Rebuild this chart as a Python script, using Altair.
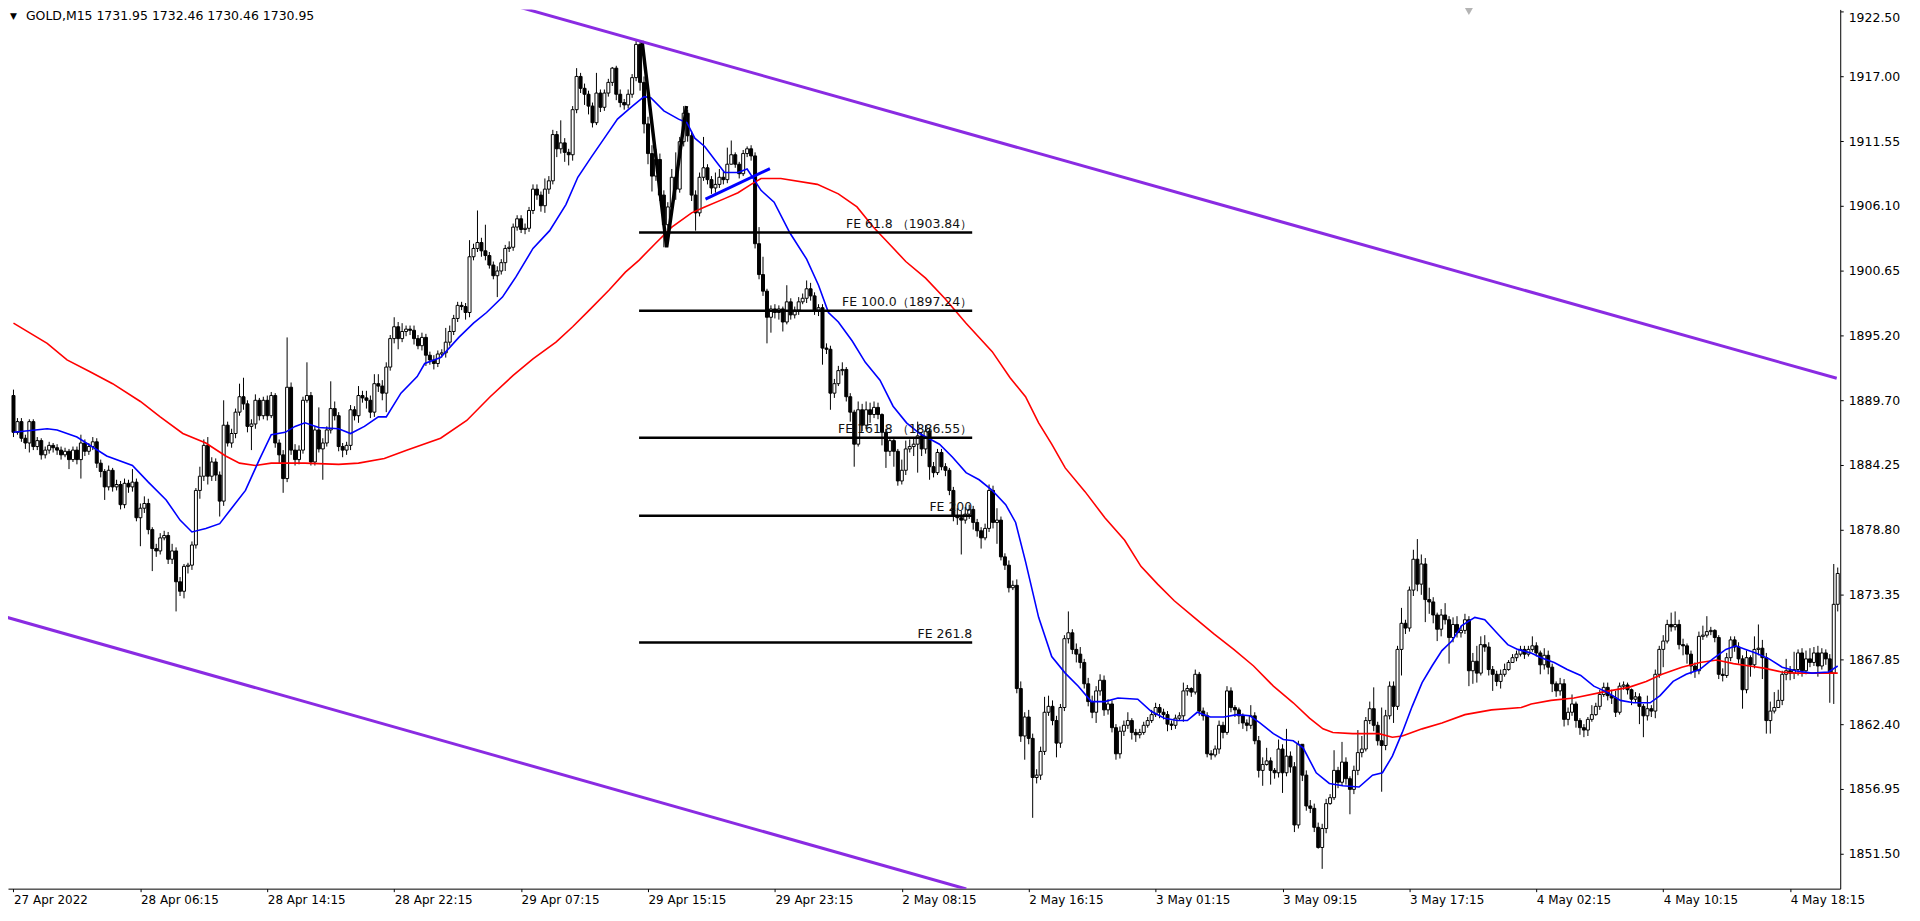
import altair as alt
import pandas as pd

# ---------------- candle data (GOLD M15) ----------------
first_open = 1890.1
closes = [
    1887.0, 1887.9, 1886.5, 1886.1, 1887.9, 1885.8, 1886.3, 1885.1, 1885.5, 1885.9,
    1885.7, 1885.5, 1885.1, 1885.4, 1884.7, 1885.5, 1884.7, 1886.1, 1885.4, 1885.8,
    1886.2, 1884.4, 1883.7, 1882.4, 1883.8, 1882.4, 1882.6, 1880.9, 1882.7, 1882.4,
    1882.8, 1879.8, 1880.6, 1881.0, 1878.8, 1877.2, 1877.0, 1878.1, 1878.3, 1876.3,
    1877.0, 1874.4, 1873.6, 1875.7, 1875.8, 1877.5, 1882.1, 1883.3, 1885.9, 1883.3,
    1884.5, 1883.4, 1881.2, 1887.6, 1886.1, 1886.9, 1888.7, 1890.0, 1889.4, 1887.5,
    1887.7, 1889.7, 1888.4, 1889.7, 1888.4, 1890.1, 1886.1, 1885.1, 1883.1, 1890.8,
    1885.5, 1884.7, 1885.5, 1889.7, 1890.1, 1884.5, 1887.2, 1885.6, 1886.1, 1887.2,
    1889.0, 1888.4, 1885.8, 1885.5, 1885.9, 1888.9, 1888.4, 1890.1, 1889.9, 1889.7,
    1888.7, 1891.1, 1890.9, 1890.3, 1892.5, 1894.9, 1895.9, 1894.9, 1895.5, 1895.7,
    1895.6, 1894.9, 1894.3, 1895.0, 1893.5, 1893.1, 1892.8, 1893.6, 1893.7, 1894.6,
    1895.5, 1896.6, 1897.7, 1897.6, 1897.1, 1901.8, 1902.5, 1903.0, 1902.3, 1901.9,
    1901.1, 1900.2, 1900.6, 1901.3, 1902.5, 1902.6, 1904.3, 1905.0, 1904.1, 1904.2,
    1905.7, 1907.5, 1907.0, 1906.1, 1907.5, 1908.2, 1912.1, 1910.9, 1911.4, 1910.6,
    1910.4, 1914.2, 1917.0, 1916.0, 1915.5, 1914.5, 1913.1, 1915.6, 1914.4, 1915.6,
    1916.5, 1917.7, 1915.5, 1914.8, 1914.6, 1915.5, 1916.9, 1919.7, 1916.5, 1913.0,
    1910.5, 1908.6, 1910.0, 1907.0, 1904.5, 1906.0, 1908.5, 1907.5, 1911.5, 1913.9,
    1912.0, 1907.0, 1905.5, 1908.5, 1909.3, 1908.3, 1907.6, 1907.9, 1908.5, 1908.3,
    1909.6, 1910.4, 1909.6, 1908.8, 1910.5, 1910.9, 1910.3, 1902.9, 1900.3, 1898.9,
    1896.7, 1897.4, 1897.1, 1897.4, 1896.3, 1898.0, 1896.9, 1897.3, 1898.0, 1898.3,
    1899.1, 1898.5, 1897.3, 1897.5, 1894.1, 1894.0, 1890.3, 1891.1, 1892.2, 1892.3,
    1890.0, 1888.7, 1886.0, 1888.9, 1887.6, 1888.9, 1888.5, 1889.1, 1888.5, 1887.0,
    1885.4, 1886.3, 1885.4, 1882.9, 1883.8, 1885.6, 1885.8, 1886.0, 1886.7, 1885.6,
    1887.1, 1884.1, 1883.6, 1885.3, 1884.1, 1883.8, 1882.1, 1879.9, 1879.8, 1879.6,
    1880.1, 1880.5, 1879.4, 1878.7, 1878.1, 1878.9, 1882.1, 1879.4, 1879.6, 1876.5,
    1875.8, 1873.9, 1874.1, 1865.4, 1861.4, 1863.0, 1861.2, 1857.9, 1858.1, 1860.1,
    1863.4, 1863.9, 1862.7, 1860.8, 1863.8, 1869.6, 1870.1, 1868.7, 1868.3, 1867.6,
    1865.8, 1864.3, 1863.4, 1865.2, 1866.1, 1863.6, 1864.1, 1862.1, 1859.9, 1861.8,
    1862.3, 1862.7, 1861.7, 1861.5, 1861.7, 1862.3, 1862.7, 1863.2, 1863.8, 1863.4,
    1863.2, 1862.4, 1862.3, 1862.9, 1863.1, 1865.2, 1865.4, 1865.1, 1866.6, 1863.5,
    1863.1, 1859.9, 1859.8, 1860.3, 1862.3, 1861.7, 1865.2, 1863.8, 1863.6, 1863.1,
    1862.5, 1862.3, 1863.1, 1861.0, 1858.5, 1859.0, 1859.3, 1858.5, 1858.3, 1860.3,
    1858.3, 1859.7, 1858.8, 1853.9, 1860.7, 1858.1, 1855.5, 1855.3, 1853.7, 1852.0,
    1853.6, 1855.7, 1856.2, 1858.5, 1857.5, 1859.2, 1857.8, 1856.9, 1858.5, 1860.0,
    1860.3, 1862.7, 1863.7, 1862.3, 1861.0, 1860.6, 1863.1, 1865.6, 1863.9, 1868.7,
    1870.9, 1870.5, 1873.7, 1876.3, 1874.2, 1875.9, 1872.9, 1872.7, 1871.6, 1870.4,
    1871.6, 1871.2, 1869.7, 1870.8, 1870.1, 1870.3, 1871.2, 1866.9, 1867.7, 1866.7,
    1869.1, 1868.9, 1867.0, 1866.6, 1866.0, 1866.6, 1867.0, 1867.6, 1868.0, 1868.3,
    1868.7, 1868.3, 1868.7, 1869.0, 1868.4, 1867.4, 1868.2, 1867.2, 1865.8, 1865.2,
    1865.8, 1862.8, 1863.4, 1864.1, 1862.7, 1862.1, 1861.9, 1862.8, 1863.2, 1863.9,
    1864.9, 1865.5, 1864.8, 1864.6, 1863.4, 1865.6, 1865.7, 1865.3, 1864.5, 1864.7,
    1863.9, 1863.1, 1863.7, 1863.5, 1866.6, 1868.7, 1869.4, 1870.8, 1870.6, 1870.8,
    1869.1, 1869.0, 1868.3, 1867.3, 1866.9, 1869.8, 1869.9, 1870.2, 1870.3, 1869.7,
    1866.6, 1866.5, 1868.0, 1869.5, 1868.9, 1867.9, 1865.3, 1868.0, 1867.4, 1868.7,
    1868.8, 1868.0, 1862.7, 1863.5, 1863.8, 1864.4, 1866.6, 1866.9, 1866.7, 1867.0,
    1868.4, 1866.9, 1867.9, 1867.6, 1868.4, 1867.3, 1868.4, 1867.9, 1866.7, 1872.5, 1875.1,
]
highs = [
    1890.6, 1888.2, 1888.2, 1886.8, 1888.1, 1888.1, 1886.6, 1886.5, 1885.8, 1886.2,
    1886.1, 1886.0, 1885.8, 1885.7, 1885.6, 1885.8, 1885.8, 1886.8, 1886.4, 1886.1,
    1886.6, 1886.5, 1884.7, 1883.9, 1884.2, 1884.0, 1883.0, 1882.9, 1883.1, 1883.0,
    1883.9, 1883.1, 1881.0, 1881.6, 1881.4, 1879.0, 1877.6, 1878.5, 1878.7, 1878.6,
    1877.6, 1877.3, 1874.8, 1875.9, 1876.0, 1877.8, 1882.3, 1884.1, 1886.4, 1886.6,
    1884.9, 1884.8, 1883.7, 1889.7, 1887.9, 1887.3, 1889.0, 1891.1, 1891.6, 1889.7,
    1888.1, 1890.2, 1889.9, 1890.0, 1890.1, 1890.4, 1890.3, 1886.4, 1885.5, 1895.0,
    1891.2, 1886.0, 1885.9, 1890.0, 1892.9, 1890.4, 1887.5, 1889.1, 1886.5, 1887.5,
    1891.3, 1889.6, 1888.7, 1886.1, 1886.2, 1889.3, 1889.2, 1890.9, 1890.5, 1890.5,
    1890.1, 1891.9, 1891.9, 1891.4, 1892.9, 1895.2, 1896.7, 1896.3, 1896.2, 1896.0,
    1896.0, 1896.0, 1895.2, 1895.4, 1895.3, 1893.8, 1893.5, 1893.9, 1894.0, 1895.8,
    1896.0, 1896.9, 1898.0, 1898.0, 1897.9, 1903.2, 1902.9, 1905.7, 1903.4, 1904.5,
    1902.2, 1901.4, 1901.0, 1901.6, 1902.8, 1903.1, 1904.6, 1905.3, 1905.3, 1904.6,
    1906.0, 1907.9, 1907.9, 1907.3, 1908.4, 1908.6, 1912.5, 1912.4, 1913.3, 1911.8,
    1910.9, 1914.5, 1917.7, 1917.3, 1916.4, 1915.8, 1914.8, 1917.3, 1915.9, 1915.9,
    1916.8, 1917.8, 1917.9, 1915.9, 1915.1, 1915.9, 1917.2, 1920.0, 1920.0, 1917.0,
    1913.6, 1911.2, 1910.9, 1910.5, 1907.4, 1906.4, 1909.2, 1910.6, 1911.9, 1914.5,
    1914.2, 1912.4, 1907.4, 1908.9, 1911.9, 1909.6, 1908.6, 1908.9, 1909.2, 1909.0,
    1911.0, 1911.6, 1910.6, 1909.8, 1910.8, 1911.1, 1911.2, 1910.6, 1904.3, 1901.8,
    1899.1, 1897.7, 1897.8, 1897.7, 1897.6, 1899.4, 1898.3, 1897.6, 1898.4, 1898.7,
    1899.8, 1899.6, 1898.8, 1897.8, 1897.8, 1894.5, 1894.3, 1891.5, 1892.6, 1892.9,
    1892.5, 1890.3, 1888.9, 1889.6, 1889.4, 1889.6, 1889.5, 1889.6, 1889.5, 1888.6,
    1887.3, 1886.6, 1886.5, 1885.6, 1884.7, 1886.3, 1886.4, 1886.5, 1887.9, 1887.0,
    1887.6, 1887.4, 1884.5, 1885.6, 1885.6, 1884.4, 1884.0, 1882.4, 1880.6, 1880.4,
    1880.7, 1880.9, 1880.8, 1879.7, 1879.0, 1879.3, 1882.6, 1882.5, 1880.6, 1879.9,
    1876.8, 1876.2, 1874.5, 1874.6, 1866.0, 1863.4, 1863.6, 1861.6, 1858.6, 1860.5,
    1864.7, 1864.8, 1864.4, 1863.1, 1864.1, 1869.9, 1871.9, 1870.4, 1869.2, 1868.9,
    1867.9, 1866.3, 1864.8, 1865.6, 1866.6, 1866.5, 1864.5, 1864.4, 1862.4, 1862.2,
    1862.7, 1863.4, 1862.9, 1862.0, 1862.0, 1862.6, 1863.0, 1863.6, 1864.2, 1864.1,
    1863.7, 1863.5, 1862.7, 1863.2, 1863.4, 1865.9, 1865.7, 1865.5, 1867.0, 1866.8,
    1863.8, 1863.4, 1860.2, 1860.6, 1862.7, 1862.6, 1865.6, 1865.5, 1864.0, 1863.8,
    1863.3, 1862.8, 1864.0, 1863.4, 1861.4, 1859.6, 1860.4, 1859.6, 1858.7, 1861.1,
    1860.7, 1862.0, 1860.1, 1859.2, 1861.0, 1860.7, 1858.5, 1856.0, 1855.7, 1854.1,
    1854.0, 1856.1, 1856.5, 1860.2, 1858.8, 1860.9, 1859.6, 1858.0, 1858.9, 1861.9,
    1861.4, 1863.0, 1864.3, 1865.5, 1862.6, 1863.8, 1863.6, 1866.0, 1866.0, 1869.0,
    1872.2, 1871.2, 1874.0, 1877.1, 1878.0, 1876.7, 1876.4, 1873.9, 1873.1, 1871.8,
    1872.1, 1872.6, 1871.5, 1871.4, 1871.5, 1870.7, 1871.7, 1871.5, 1868.4, 1869.0,
    1869.8, 1869.9, 1869.3, 1867.3, 1866.9, 1867.0, 1867.5, 1867.8, 1868.3, 1868.6,
    1869.0, 1869.0, 1869.0, 1869.8, 1869.3, 1868.6, 1868.8, 1868.6, 1867.5, 1866.0,
    1866.3, 1866.2, 1863.8, 1864.9, 1864.3, 1862.9, 1862.4, 1863.0, 1864.0, 1864.2,
    1865.3, 1865.9, 1865.9, 1865.3, 1865.2, 1865.9, 1866.0, 1865.9, 1865.4, 1865.1,
    1865.0, 1864.1, 1864.8, 1864.0, 1867.0, 1869.0, 1869.9, 1871.2, 1871.8, 1871.9,
    1871.2, 1869.6, 1869.2, 1868.6, 1867.6, 1870.2, 1870.7, 1871.5, 1870.6, 1870.4,
    1869.9, 1867.1, 1868.4, 1869.8, 1869.8, 1869.3, 1868.2, 1868.6, 1868.2, 1869.8,
    1870.8, 1869.5, 1868.4, 1864.3, 1865.1, 1865.3, 1866.9, 1867.9, 1867.3, 1868.5,
    1868.7, 1868.8, 1868.6, 1868.8, 1868.9, 1869.0, 1868.8, 1868.7, 1868.3, 1875.9, 1875.6,
]
lows = [
    1886.6, 1886.8, 1886.2, 1885.6, 1885.3, 1885.5, 1885.5, 1884.7, 1884.8, 1885.2,
    1885.3, 1885.1, 1884.7, 1884.9, 1883.9, 1884.5, 1884.3, 1883.1, 1885.0, 1885.1,
    1885.5, 1884.0, 1883.2, 1881.3, 1882.1, 1882.0, 1882.1, 1880.5, 1880.6, 1881.9,
    1882.0, 1879.5, 1877.4, 1880.2, 1878.4, 1875.3, 1876.5, 1876.7, 1877.9, 1875.9,
    1875.9, 1871.9, 1873.2, 1873.0, 1875.1, 1875.4, 1877.2, 1881.4, 1882.9, 1882.6,
    1882.9, 1882.9, 1879.9, 1880.8, 1885.8, 1885.7, 1886.5, 1888.4, 1888.9, 1887.0,
    1885.5, 1887.3, 1888.0, 1888.1, 1888.0, 1888.2, 1885.7, 1884.4, 1881.9, 1882.8,
    1885.1, 1884.2, 1884.3, 1885.2, 1889.5, 1884.2, 1884.2, 1885.3, 1883.0, 1885.8,
    1886.9, 1888.0, 1885.4, 1884.9, 1885.1, 1885.5, 1888.0, 1887.8, 1889.5, 1889.0,
    1888.2, 1888.3, 1890.4, 1889.7, 1888.7, 1892.2, 1894.5, 1894.0, 1894.6, 1895.1,
    1895.2, 1894.4, 1894.0, 1893.9, 1892.6, 1892.7, 1892.3, 1892.5, 1893.3, 1893.3,
    1894.3, 1895.2, 1896.3, 1897.3, 1896.5, 1896.7, 1901.5, 1902.2, 1901.8, 1901.5,
    1900.8, 1899.9, 1898.4, 1900.3, 1900.6, 1902.2, 1902.3, 1904.0, 1903.8, 1903.7,
    1903.9, 1905.4, 1906.6, 1905.6, 1905.5, 1907.1, 1907.9, 1910.2, 1910.5, 1909.8,
    1909.5, 1909.9, 1913.9, 1915.6, 1914.6, 1913.8, 1912.7, 1912.9, 1914.0, 1914.1,
    1915.3, 1916.2, 1915.0, 1914.4, 1914.2, 1914.3, 1915.2, 1916.6, 1915.8, 1912.2,
    1909.6, 1907.3, 1908.2, 1906.5, 1902.6, 1904.0, 1905.6, 1906.6, 1907.2, 1911.1,
    1911.5, 1906.5, 1904.0, 1905.2, 1908.2, 1907.9, 1907.1, 1907.2, 1907.6, 1907.9,
    1908.0, 1910.0, 1909.3, 1908.4, 1908.6, 1910.2, 1909.9, 1902.5, 1899.9, 1898.5,
    1894.5, 1895.4, 1896.6, 1896.5, 1895.5, 1896.1, 1896.5, 1896.6, 1896.9, 1897.8,
    1897.9, 1898.1, 1896.9, 1896.8, 1892.7, 1893.6, 1888.9, 1889.9, 1890.9, 1891.8,
    1889.6, 1887.9, 1884.1, 1885.8, 1887.1, 1887.3, 1887.8, 1888.2, 1888.1, 1885.9,
    1884.0, 1885.0, 1884.1, 1882.5, 1882.6, 1883.4, 1885.3, 1885.0, 1883.6, 1885.0,
    1885.2, 1883.0, 1883.2, 1883.4, 1883.8, 1883.3, 1881.7, 1879.5, 1879.2, 1876.7,
    1879.3, 1879.7, 1878.8, 1878.2, 1877.2, 1877.9, 1878.6, 1878.9, 1877.6, 1876.2,
    1875.4, 1873.5, 1873.7, 1865.0, 1860.9, 1859.4, 1860.7, 1854.5, 1857.4, 1857.7,
    1859.8, 1863.1, 1862.3, 1859.6, 1860.4, 1863.5, 1869.2, 1868.3, 1867.6, 1867.1,
    1865.4, 1863.9, 1862.9, 1862.5, 1864.8, 1863.1, 1863.2, 1861.7, 1859.4, 1859.5,
    1861.4, 1862.0, 1861.1, 1860.9, 1861.2, 1861.5, 1862.1, 1862.5, 1863.0, 1862.9,
    1862.8, 1861.8, 1861.9, 1862.0, 1862.7, 1862.6, 1864.8, 1864.7, 1864.9, 1863.1,
    1862.7, 1859.6, 1859.4, 1859.6, 1859.9, 1861.2, 1861.5, 1863.4, 1863.0, 1862.4,
    1862.0, 1861.8, 1862.0, 1860.7, 1857.9, 1857.2, 1858.9, 1857.3, 1857.8, 1857.9,
    1856.6, 1858.0, 1858.3, 1853.3, 1853.6, 1857.6, 1855.1, 1854.9, 1853.3, 1851.9,
    1850.2, 1853.2, 1855.6, 1856.0, 1857.0, 1857.2, 1857.3, 1854.8, 1856.5, 1858.1,
    1859.6, 1860.1, 1862.4, 1861.8, 1860.6, 1856.7, 1860.2, 1862.8, 1862.5, 1863.6,
    1866.5, 1870.0, 1870.2, 1873.2, 1873.6, 1873.3, 1871.0, 1871.7, 1870.9, 1869.4,
    1869.8, 1870.8, 1867.5, 1869.3, 1869.7, 1869.7, 1870.0, 1865.6, 1865.8, 1865.9,
    1866.5, 1868.5, 1866.5, 1865.2, 1865.6, 1865.4, 1866.4, 1866.9, 1867.6, 1867.7,
    1868.1, 1867.9, 1868.1, 1868.5, 1868.1, 1866.6, 1867.0, 1866.6, 1865.1, 1864.7,
    1864.8, 1862.2, 1862.3, 1863.1, 1862.1, 1861.5, 1861.3, 1861.4, 1862.6, 1863.1,
    1863.6, 1864.7, 1864.4, 1864.1, 1863.0, 1863.2, 1865.3, 1864.9, 1864.0, 1864.2,
    1862.4, 1861.3, 1862.7, 1863.0, 1862.9, 1866.3, 1867.2, 1869.2, 1870.2, 1870.3,
    1868.7, 1868.2, 1867.5, 1866.6, 1866.3, 1866.6, 1869.5, 1869.7, 1869.9, 1869.3,
    1866.2, 1866.0, 1866.3, 1867.7, 1868.5, 1867.5, 1863.7, 1865.0, 1866.4, 1867.1,
    1868.2, 1866.2, 1861.6, 1861.6, 1863.3, 1863.8, 1864.0, 1866.1, 1866.1, 1866.2,
    1866.5, 1866.4, 1866.6, 1867.2, 1867.3, 1866.4, 1867.0, 1867.4, 1864.2, 1864.1, 1871.9,
]

# ---------------- moving averages ----------------
blue_ma_idx = [0, 8.5, 11, 16, 23.5, 30, 34, 38.5, 42, 45, 48.5, 52, 55, 58.5, 62, 65, 68.5, 71, 73.5, 77,
               82, 85, 88.5, 92, 94, 97.7, 101.8, 103.7, 107.7, 112.3, 116, 119.3, 123.3, 126.7, 131, 135.2,
               139.3, 142.3, 145.7, 149, 152.3, 155.7, 159, 160.7, 164, 167.7, 169.8, 171.8, 174.3, 177.7,
               179.3, 182.7, 185, 188.5, 191.8, 195.8, 200, 203, 205.5, 208, 211.5, 214.8, 218.5, 221.8,
               225.2, 228.5, 233.5, 236.8, 240.2, 243.5, 246.8, 250.2, 252.7, 255.2, 258.5, 261.8, 265.2,
               268.5, 271.8, 275.2, 278.5, 283.5, 286.8, 290.2, 293.5, 296, 298.5, 301.8, 305.2, 308.5,
               311.8, 314.3, 317.7, 320.2, 322.7, 325.2, 328.5, 331.8, 335.2, 339.3, 342.7, 345.2, 347.7,
               350.2, 352.7, 355.2, 357.7, 360.2, 362.7, 365.2, 368.5, 371, 374.3, 376.8, 379.3, 382.7,
               385.2, 388.5, 391.8, 395.2, 398.5, 401.8, 405.2, 408.5, 412.7, 415.2, 418.5, 421.8, 425.2,
               428.5, 431.8, 434.3, 436.8, 439.3, 442.7, 446, 449.3, 453.5, 457.7, 460]
blue_ma_val = [1887.0, 1887.3, 1887.2, 1886.6, 1885.0, 1884.2, 1882.8, 1881.3, 1879.6, 1878.6, 1878.9, 1879.3,
               1880.6, 1882.1, 1884.7, 1886.8, 1887.0, 1887.5, 1887.8, 1887.4, 1887.3, 1886.9, 1887.5, 1888.3,
               1888.3, 1890.3, 1891.7, 1892.8, 1893.3, 1895.0, 1896.2, 1897.1, 1898.4, 1900.1, 1902.5, 1904.0,
               1906.2, 1908.5, 1910.2, 1911.8, 1913.4, 1914.4, 1915.3, 1915.2, 1914.1, 1913.4, 1913.1, 1911.8,
               1911.1, 1909.6, 1908.9, 1908.9, 1909.2, 1907.4, 1906.4, 1903.8, 1901.6, 1899.4, 1897.1, 1896.3,
               1894.7, 1892.9, 1891.4, 1889.2, 1887.8, 1886.9, 1886.0, 1884.9, 1883.6, 1883.0, 1882.1, 1880.9,
               1879.4, 1876.1, 1871.4, 1868.1, 1866.7, 1865.6, 1864.3, 1864.3, 1864.6, 1864.5, 1863.5, 1862.9,
               1862.7, 1862.7, 1863.4, 1863.0, 1863.0, 1863.2, 1863.1, 1862.5, 1861.6, 1861.1, 1861.0, 1860.4,
               1858.3, 1857.4, 1857.2, 1857.1, 1858.1, 1858.3, 1859.7, 1861.7, 1863.9, 1865.9, 1867.3, 1868.6,
               1869.4, 1870.7, 1871.4, 1871.2, 1870.0, 1869.1, 1868.7, 1868.4, 1868.0, 1867.6, 1867.0, 1866.5,
               1865.6, 1865.1, 1864.4, 1864.2, 1864.2, 1864.8, 1866.0, 1866.6, 1867.0, 1867.9, 1868.7, 1869.0,
               1868.7, 1868.4, 1867.9, 1867.2, 1866.9, 1866.7, 1866.8, 1867.3]
red_ma_idx = [0, 8.5, 13.5, 19.3, 25, 32, 37, 42.7, 48.5, 53.5, 57, 61, 65, 73.5, 82, 87, 93.5, 99.3, 107.7,
              114.3, 120.2, 126, 131, 136.8, 141, 145.2, 150.2, 154.3, 157.7, 161.8, 166, 171, 174.3, 179.3,
              182.7, 186, 188.5, 193.5, 202.7, 208, 212.7, 216.8, 220.8, 225, 230, 234.8, 240.2, 246.8,
              251.3, 255.2, 258.5, 261.8, 265.2, 270.2, 275.2, 280.2, 284.3, 288.5, 292.7, 297.7, 302.7,
              307.7, 312.7, 317.7, 322.7, 326.8, 330.2, 332.7, 337.7, 344.3, 347.7, 350.2, 355.2, 360.2,
              366, 372.7, 380.2, 382.7, 387.7, 393.5, 400.7, 407.3, 411.7, 415.7, 420.7, 425.3, 429.5,
              433.7, 437.8, 441.7, 445.8, 449.3, 460]
red_ma_val = [1896.2, 1894.5, 1893.1, 1892.1, 1891.1, 1889.6, 1888.3, 1886.9, 1886.1, 1885.0, 1884.4, 1884.2,
              1884.4, 1884.4, 1884.3, 1884.4, 1884.8, 1885.5, 1886.5, 1888.0, 1890.0, 1891.8, 1893.2, 1894.6,
              1895.9, 1897.3, 1899.0, 1900.5, 1901.5, 1902.9, 1904.3, 1905.5, 1906.0, 1906.7, 1907.2, 1907.9,
              1908.4, 1908.4, 1907.9, 1907.1, 1906.0, 1904.3, 1902.9, 1901.4, 1900.0, 1898.3, 1896.2, 1893.8,
              1891.6, 1890.0, 1887.8, 1886.0, 1884.0, 1882.0, 1879.8, 1877.9, 1875.7, 1874.2, 1872.8, 1871.4,
              1870.0, 1868.7, 1867.3, 1865.6, 1864.2, 1862.9, 1862.0, 1861.7, 1861.6, 1861.6, 1861.3, 1861.4,
              1862.0, 1862.5, 1863.2, 1863.6, 1863.8, 1864.1, 1864.4, 1864.6, 1865.1, 1865.5, 1866.0, 1866.6,
              1867.2, 1867.6, 1867.8, 1867.5, 1867.3, 1867.1, 1866.8, 1866.7, 1866.7]

# ---------------- drawn objects ----------------
fe_levels = [1903.84, 1897.24, 1886.55, 1879.96, 1869.28]
fe_labels = ["FE 61.8 （1903.84）", "FE 100.0（1897.24）", "FE 161.8 （1886.55）", "FE 200", "FE 261.8"]
fe_start, fe_end = 157.75, 241.75
fe_points_idx = [158.5, 164.7, 169.7]
fe_points_val = [1920.0, 1902.6, 1914.5]
trend_idx = [174.5, 190.75]
trend_val = [1906.65, 1909.23]
upper_channel_idx = [122.5, 459.75]
upper_channel_val = [1923.32, 1891.56]
lower_channel_idx = [-1.5, 240.25]
lower_channel_val = [1871.39, 1848.5]
shift_marker_idx = [367]

# ---------------- axes labels ----------------
x_tick_idx = list(range(0, 449, 32))
x_tick_labels = ["27 Apr 2022", "28 Apr 06:15", "28 Apr 14:15", "28 Apr 22:15", "29 Apr 07:15",
                 "29 Apr 15:15", "29 Apr 23:15", "2 May 08:15", "2 May 16:15", "3 May 01:15",
                 "3 May 09:15", "3 May 17:15", "4 May 02:15", "4 May 10:15", "4 May 18:15"]
y_ticks = [1922.50, 1917.00, 1911.55, 1906.10, 1900.65, 1895.20, 1889.70, 1884.25,
           1878.80, 1873.35, 1867.85, 1862.40, 1856.95, 1851.50]
header = "GOLD,M15  1731.95 1732.46 1730.46 1730.95"

assert len(closes) == len(highs) == len(lows), (len(closes), len(highs), len(lows))
assert len(x_tick_idx) == len(x_tick_labels)

n = len(closes)
opens = [first_open] + closes[:-1]
hi = [max(h, o, c) for h, o, c in zip(highs, opens, closes)]
lo = [min(l, o, c) for l, o, c in zip(lows, opens, closes)]
candles = pd.DataFrame({"i": list(range(n)), "open": opens, "high": hi, "low": lo, "close": closes})

blue_df = pd.DataFrame({"x": blue_ma_idx, "y": blue_ma_val})
red_df = pd.DataFrame({"x": red_ma_idx, "y": red_ma_val})
fe_df = pd.DataFrame({"level": fe_levels, "label": fe_labels, "x0": [fe_start] * 5, "x1": [fe_end] * 5})
fev_df = pd.DataFrame({"x": fe_points_idx, "y": fe_points_val, "o": [0, 1, 2]})
trend_df = pd.DataFrame({"x": trend_idx, "y": trend_val})
chan_df = pd.DataFrame({"x": upper_channel_idx + lower_channel_idx,
                        "y": upper_channel_val + lower_channel_val,
                        "line": ["u", "u", "l", "l"]})
marker_df = pd.DataFrame({"x": shift_marker_idx})

FONT = "DejaVu Sans"
x_scale = alt.Scale(domain=[-0.125, 459.375], nice=False, zero=False)
y_scale = alt.Scale(domain=[1848.53, 1922.65], nice=False, zero=False)

label_array = "[" + ",".join("'" + s + "'" for s in x_tick_labels) + "]"
x_axis = alt.Axis(values=x_tick_idx, labelExpr=label_array + "[round(datum.value / 32)]",
                  title=None, grid=False, orient="bottom", labelAlign="left",
                  tickSize=3, labelPadding=3, domainColor="black", tickColor="black",
                  labelColor="black", labelFont=FONT, labelFontSize=12, labelOverlap=False,
                  labelFlush=False, labelBaseline="top")
y_axis = alt.Axis(orient="right", values=y_ticks, format=".2f", title=None, grid=False,
                  tickSize=3, labelPadding=5, domainColor="black", tickColor="black",
                  labelColor="black", labelFont=FONT, labelFontSize=12.5, labelOverlap=False,
                  labelFlush=False,
                  labelBaseline={"condition": {"test": "datum.value > 1922", "value": "top"},
                                 "value": "middle"})


def X(field):
    return alt.X(field, type="quantitative", scale=x_scale, axis=x_axis)


def Y(field):
    return alt.Y(field, type="quantitative", scale=y_scale, axis=y_axis)


wicks = alt.Chart(candles).mark_rule(color="black", strokeWidth=1).encode(
    x=X("i"), y=Y("low"), y2="high:Q")
bodies = alt.Chart(candles).mark_bar(size=3, stroke="black", strokeWidth=1).encode(
    x=X("i"), y=Y("open"), y2="close:Q",
    fill=alt.condition("datum.close > datum.open", alt.value("white"), alt.value("black")))
red_line = alt.Chart(red_df).mark_line(color="#ff0000", strokeWidth=1.6).encode(x=X("x"), y=Y("y"))
blue_line = alt.Chart(blue_df).mark_line(color="#0000ff", strokeWidth=1.6).encode(x=X("x"), y=Y("y"))
fe_rules = alt.Chart(fe_df).mark_rule(color="black", strokeWidth=2.5).encode(
    x=X("x0"), x2="x1:Q", y=Y("level"))
fe_text = alt.Chart(fe_df).mark_text(align="right", baseline="bottom", dy=-2, dx=0,
                                     font=FONT, fontSize=12.5, color="#111111").encode(
    x=X("x1"), y=Y("level"), text="label:N")
fe_v = alt.Chart(fev_df).mark_line(color="black", strokeWidth=3.5).encode(
    x=X("x"), y=Y("y"), order="o:Q")
trend = alt.Chart(trend_df).mark_line(color="#0000ff", strokeWidth=3).encode(x=X("x"), y=Y("y"))
channel = alt.Chart(chan_df).mark_line(color="#8a2be2", strokeWidth=3, clip=True).encode(
    x=X("x"), y=Y("y"), detail="line:N")
marker = alt.Chart(marker_df).mark_point(shape="triangle-down", filled=True, size=160,
                                         color="#b4b4b4", opacity=1).encode(
    x=X("x"), y=alt.value(0))
head_tri = alt.Chart(pd.DataFrame({"t": ["▼"]})).mark_text(
    align="left", baseline="middle", font=FONT, fontSize=9, color="black").encode(
    x=alt.value(2), y=alt.value(7), text="t:N")
head_txt = alt.Chart(pd.DataFrame({"t": [header]})).mark_text(
    align="left", baseline="middle", font=FONT, fontSize=12.5, color="black").encode(
    x=alt.value(18), y=alt.value(7), text="t:N")

chart = alt.layer(wicks, bodies, red_line, blue_line, fe_rules, fe_text, fe_v, trend, channel,
                  marker, head_tri, head_txt).properties(
    width=1838, height=882,
    autosize=alt.AutoSizeParams(type="none"),
    padding={"left": 0, "top": 0, "right": 72, "bottom": 26},
    background="white",
).configure_view(strokeWidth=0)

chart.save("out.html", embed_options={"renderer": "svg", "actions": False})
